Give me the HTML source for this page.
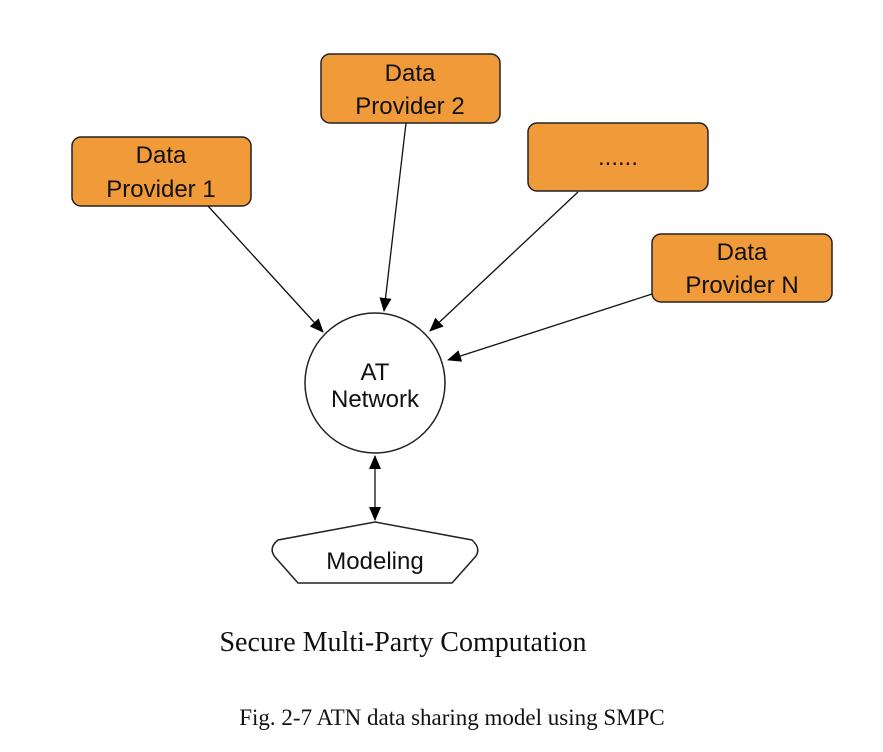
<!DOCTYPE html>
<html><head><meta charset="utf-8"><style>
html,body{margin:0;padding:0;background:#fff;}
svg{display:block;}
</style></head><body>
<svg width="883" height="752" viewBox="0 0 883 752" xmlns="http://www.w3.org/2000/svg">
<defs>
<marker id="a" markerWidth="14" markerHeight="12" refX="13" refY="6" orient="auto-start-reverse" markerUnits="userSpaceOnUse">
<path d="M0,0 L14,6 L0,12 Z" fill="#000"/>
</marker>
</defs>
<g fill="#f09a3a" stroke="#222" stroke-width="1.5">
<rect x="72" y="137" width="179" height="69" rx="9"/>
<rect x="321" y="54" width="179" height="69" rx="9"/>
<rect x="528" y="123" width="180" height="68" rx="9"/>
<rect x="652" y="234" width="180" height="68" rx="9"/>
</g>
<circle cx="375" cy="383" r="70" fill="#fff" stroke="#222" stroke-width="1.5"/>
<path d="M375,522 L472,540 Q481,548 476,556 L452,583 L298,583 L275,557 Q268,548 278,540 Z" fill="#fff" stroke="#222" stroke-width="1.5"/>
<g stroke="#111" stroke-width="1.3" fill="none">
<line x1="208" y1="206" x2="323" y2="332" marker-end="url(#a)"/>
<line x1="406" y1="123" x2="384" y2="311" marker-end="url(#a)"/>
<line x1="578" y1="192" x2="430" y2="331" marker-end="url(#a)"/>
<line x1="652" y1="294" x2="448" y2="360" marker-end="url(#a)"/>
<line x1="375" y1="456" x2="375" y2="520" marker-start="url(#a)" marker-end="url(#a)"/>
</g>
<g font-family="Liberation Sans, sans-serif" font-size="24" fill="#111" text-anchor="middle">
<text x="161" y="163">Data</text>
<text x="161" y="197">Provider 1</text>
<text x="410" y="81">Data</text>
<text x="410" y="114">Provider 2</text>
<text x="618" y="165">......</text>
<text x="742" y="260">Data</text>
<text x="742" y="293">Provider N</text>
<text x="375" y="380">AT</text>
<text x="375" y="407">Network</text>
<text x="375" y="569">Modeling</text>
</g>
<text x="403" y="651" font-family="Liberation Serif, serif" font-size="28" text-anchor="middle" fill="#111">Secure Multi-Party Computation</text>
<text x="452" y="725" font-family="Liberation Serif, serif" font-size="23" text-anchor="middle" fill="#111">Fig. 2-7 ATN data sharing model using SMPC</text>
</svg>
</body></html>
